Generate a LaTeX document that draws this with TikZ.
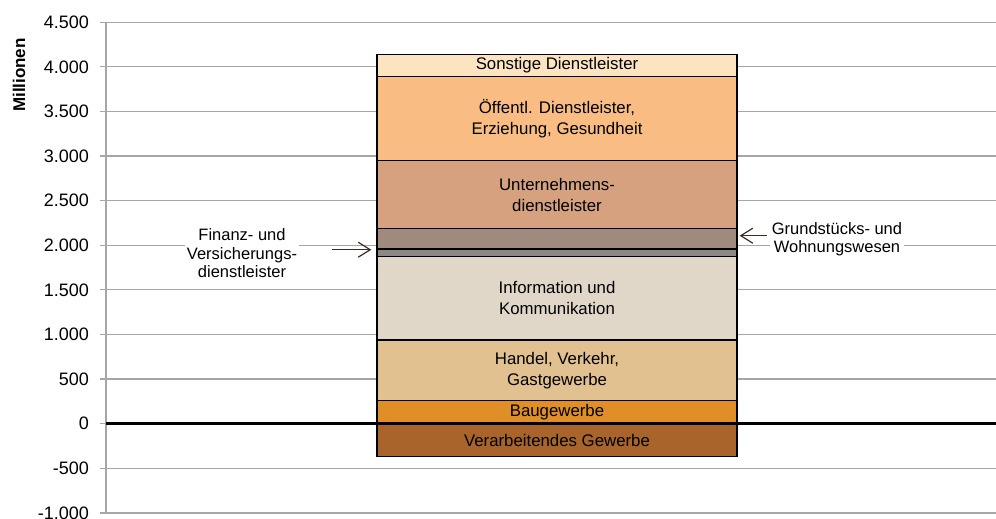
\documentclass[tikz,border=0pt]{standalone}
\usepackage{fontspec}
\setmainfont{Liberation Sans}
\usetikzlibrary{arrows.meta,positioning,fit}
\definecolor{gridgray}{RGB}{166,166,166}
\definecolor{sonstcol}{RGB}{253,228,193}
\definecolor{oeffcol}{RGB}{249,189,131}
\definecolor{untcol}{RGB}{214,161,126}
\definecolor{grundcol}{RGB}{158,139,126}
\definecolor{fincol}{RGB}{140,136,131}
\definecolor{infocol}{RGB}{224,215,200}
\definecolor{handcol}{RGB}{226,193,144}
\definecolor{baucol}{RGB}{224,142,40}
\definecolor{verarbcol}{RGB}{168,100,42}
\definecolor{arrowbrown}{RGB}{60,45,35}
\tikzset{
  segment/.style={draw=black,line width=1.3pt,inner sep=0pt},
  segtext/.style={align=center,inner sep=0pt,font=\fontsize{16.8}{21}\selectfont},
  gridline/.style={draw=gridgray,line width=1.2pt},
  ticklabel/.style={anchor=east,inner sep=0pt,font=\fontsize{18}{20}\selectfont},
  sidenote/.style={fill=white,align=center,inner sep=2pt,font=\fontsize{16.5}{18.3}\selectfont},
  callout/.style={-{Straight Barb[length=12pt,width=15pt]},line width=1.2pt,draw=arrowbrown},
  zeroline/.style={draw=black,line width=3pt}
}

\begin{document}
\begin{tikzpicture}[x=1pt,y=0.08922pt]
  \useasboundingbox (0,-1057) rectangle (996,4749);
  % grid and axis
  \foreach \v/\t in {-1000/-1.000,-500/-500,0/0,500/500,1000/1.000,1500/1.500,
                     2000/2.000,2500/2.500,3000/3.000,3500/3.500,4000/4.000,4500/4.500}{
    \draw[gridline] (100,\v) -- (996,\v);
    \node[ticklabel] (tick\v) at (89,\v) {\t};
  }
  \draw[gridline] (106,-1000) -- (106,4500);
  \node[rotate=90,font=\bfseries\fontsize{17}{20}\selectfont] (ylabel) at (19,3908) {Millionen};
  % stacked bar
  \node[segment,fill=verarbcol,fit={(377,-370) (737,0)}] (verarb) {};
  \node[segment,fill=baucol,fit={(377,0) (737,262)}] (bau) {};
  \node[segment,fill=handcol,fit={(377,262) (737,938)}] (handel) {};
  \node[segment,fill=infocol,fit={(377,938) (737,1876)}] (info) {};
  \node[segment,fill=fincol,fit={(377,1876) (737,1958)}] (fin) {};
  \node[segment,fill=grundcol,fit={(377,1958) (737,2186)}] (grund) {};
  \node[segment,fill=untcol,fit={(377,2186) (737,2948)}] (unt) {};
  \node[segment,fill=oeffcol,fit={(377,2948) (737,3889)}] (oeff) {};
  \node[segment,fill=sonstcol,fit={(377,3889) (737,4140)}] (sonst) {};
  \draw[zeroline] (106,0) -- (996,0);
  \node[segtext] (verarbtext) at (verarb.center) {Verarbeitendes Gewerbe};
  \node[segtext] (bautext) at (bau.center) {Baugewerbe};
  \node[segtext] (handeltext) at (handel.center) {Handel, Verkehr,\\Gastgewerbe};
  \node[segtext] (infotext) at (info.center) {Information und\\Kommunikation};
  \node[segtext] (unttext) at (unt.center) {Unternehmens-\\dienstleister};
  \node[segtext] (oefftext) at (oeff.center) {Öffentl. Dienstleister,\\Erziehung, Gesundheit};
  \node[segtext] (sonsttext) at (sonst.center) {Sonstige Dienstleister};
  % callouts
  \node[sidenote] (finlabel) at (242,1910) {Finanz- und\\Versicherungs-\\dienstleister};
  \node[sidenote] (grundlabel) at (837,2068) {Grundstücks- und\\Wohnungswesen};
  \coordinate (finstart) at (332,1950);
  \coordinate (grundstart) at (767,2107);
  \draw[callout,shorten >=5pt] (finstart) -- (finstart -| fin.west);
  \draw[callout,shorten >=2pt] (grundstart) -- (grundstart -| grund.east);
\end{tikzpicture}
\end{document}
